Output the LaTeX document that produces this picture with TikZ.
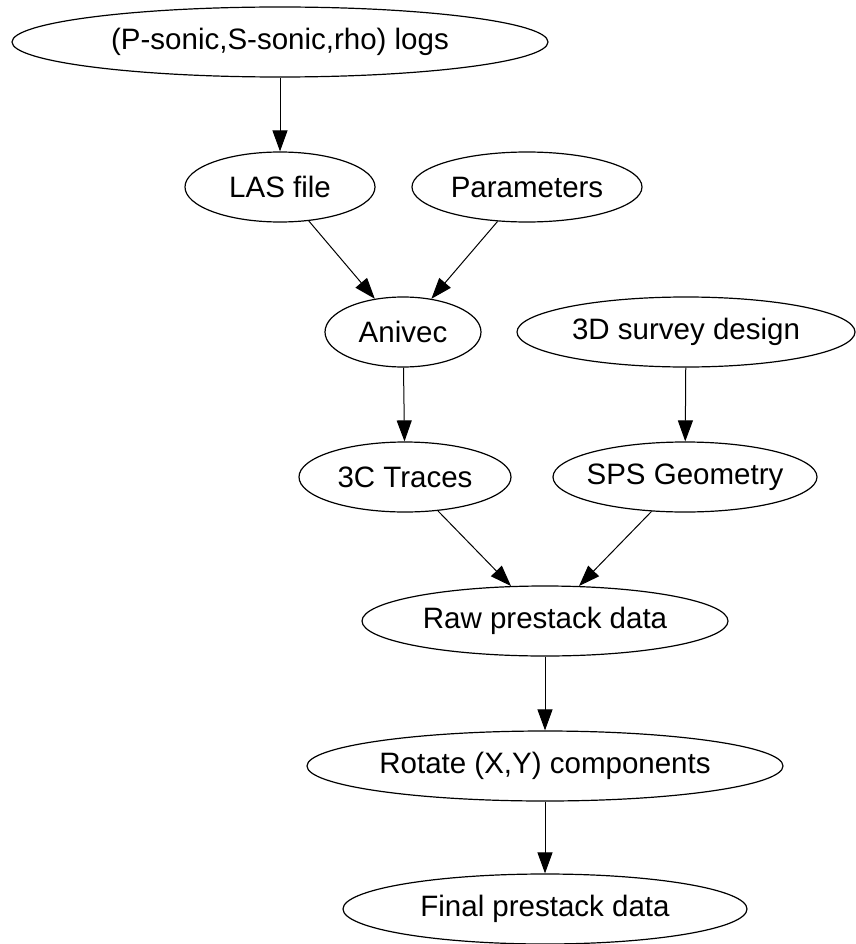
\documentclass[tikz,border=0pt]{standalone}
\usepackage{fontspec}
\setmainfont{Liberation Sans}
\usetikzlibrary{shapes.geometric,arrows.meta}
\newcommand{\lbltxt}[1]{\makebox[0pt]{#1}}
\tikzset{
  el/.style={ellipse, draw=black, line width=1.2pt, inner sep=0pt,
    minimum width=#1, minimum height=70pt, font=\fontsize{29.5}{32}\selectfont},
  flow/.style={line width=1pt, -{Triangle[length=21pt,width=15pt]}},
}
\begin{document}
\begin{tikzpicture}[x=1pt,y=-1pt]
\useasboundingbox (0,0) rectangle (855,944);
\node[el=536pt] (logs) at (280,42) {\lbltxt{(P-sonic,S-sonic,rho) logs}};
\node[el=190pt] (las) at (280,187) {\lbltxt{LAS file}};
\node[el=230pt] (par) at (527,187) {\lbltxt{Parameters}};
\node[el=156pt] (ani) at (403,332) {\lbltxt{Anivec}};
\node[el=338pt] (s3d) at (686,332) {\lbltxt{3D survey design}};
\node[el=212pt] (c3) at (405,477) {\lbltxt{3C Traces}};
\node[el=264pt] (sps) at (685,477) {\lbltxt{SPS Geometry}};
\node[el=366pt] (raw) at (545,621) {\lbltxt{Raw prestack data}};
\node[el=476pt] (rot) at (545,766) {\lbltxt{Rotate (X,Y) components}};
\node[el=404pt] (fin) at (545,909) {\lbltxt{Final prestack data}};
\draw[flow] (logs) -- (las);
\draw[flow] (las) -- (ani);
\draw[flow] (par) -- (ani);
\draw[flow] (ani) -- (c3);
\draw[flow] (s3d) -- (sps);
\draw[flow] (c3) -- (raw);
\draw[flow] (sps) -- (raw);
\draw[flow] (raw) -- (rot);
\draw[flow] (rot) -- (fin);
\end{tikzpicture}
\end{document}
